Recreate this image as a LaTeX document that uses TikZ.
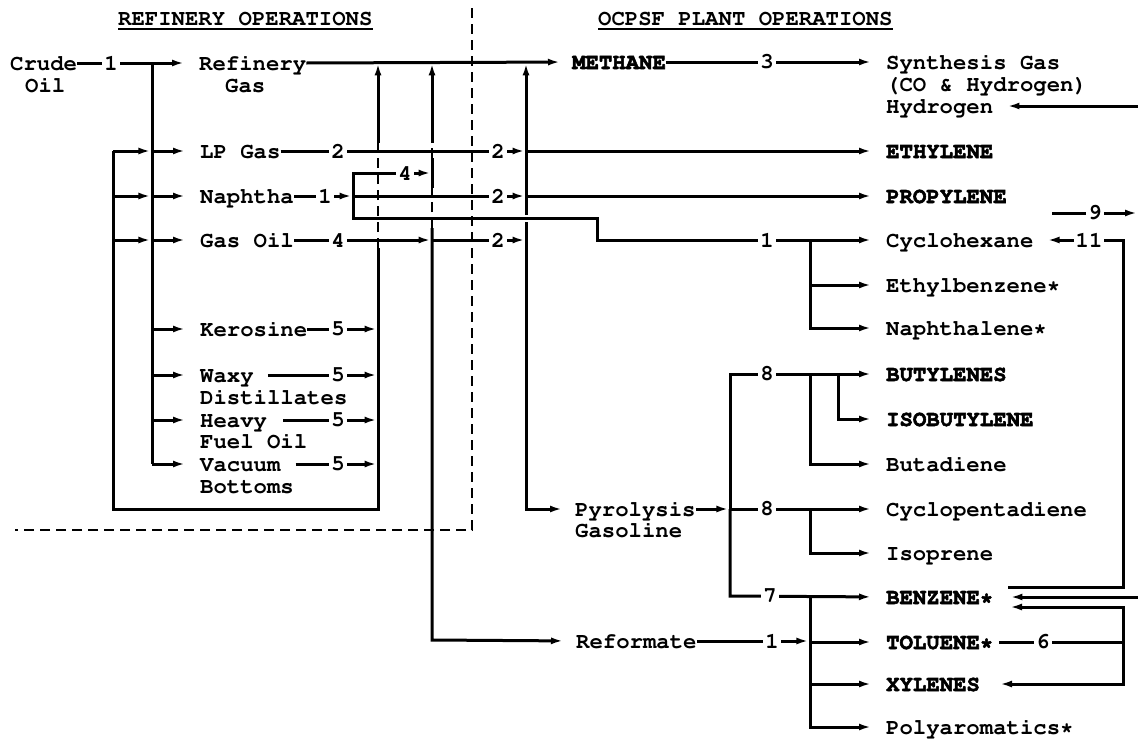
\documentclass[tikz,border=0pt]{standalone}
\usepackage[T1,TU]{fontenc}
\usetikzlibrary{arrows.meta,calc}
\newcommand\cour{\fontencoding{T1}\fontfamily{pcr}\fontseries{b}\fontshape{n}\fontsize{22.3}{26}\selectfont}
\newcommand\courb{\fontencoding{T1}\fontfamily{pcr}\fontseries{b}\fontshape{n}\fontsize{22.3}{26}\selectfont}
\newcommand\heavyon{\special{pdf:literal direct 2 Tr 0.55 w}}
\newcommand\heavyoff{\special{pdf:literal direct 0 Tr}}
\begin{document}
\begin{tikzpicture}[x=1pt,y=-1pt,
  ln/.style={line width=3pt, line join=miter},
  ar/.style={ln, -{Latex[length=12pt,width=7pt]}},
  arin/.style={ar, shorten >=1.4pt},
  to/.style={ar, shorten >=15pt},
  lab/.style={font=\cour, anchor=west, inner sep=0pt, text height=14pt, text depth=0pt},
  labb/.style={lab, font=\courb, execute at begin node=\heavyon, execute at end node=\heavyoff},
  num/.style={font=\cour, fill=white, inner xsep=2pt, inner ysep=1pt},
  dsh/.style={line width=2.2pt, dash pattern=on 10pt off 6pt},
  hdr/.style={font=\cour, anchor=base west, inner sep=0pt}
]
\useasboundingbox (0,0) rectangle (1138,742);

% headers
\node[hdr] (hdrR) at (118,25) {REFINERY OPERATIONS};
\node[hdr] (hdrP) at (598,25) {OCPSF PLANT OPERATIONS};
\draw[line width=1.8pt] ([yshift=-4pt]hdrR.base west) -- ([yshift=-4pt]hdrR.base east);
\draw[line width=1.8pt] ([yshift=-4pt]hdrP.base west) -- ([yshift=-4pt]hdrP.base east);

% boundary
\coordinate (bdTop) at (472,8);
\coordinate (bdCor) at (472,530);
\coordinate (bdEnd) at (15,530);
\draw[dsh] (bdTop) -- (bdCor) -- (bdEnd);

% left labels
\node[lab] (crude) at (10,63) {Crude};
\node[lab] (oil) at (25,85) {Oil};
\node[lab] (rgas) at (199,63) {Refinery};
\node[lab] (rgas2) at (225,85) {Gas};
\node[lab] (lpg) at (200,151) {LP Gas};
\node[lab] (nap) at (200,196) {Naphtha};
\node[lab] (goil) at (200,240) {Gas Oil};
\node[lab] (ker) at (200,329) {Kerosine};
\node[lab] (waxy) at (200,375) {Waxy};
\node[lab] (dist) at (200,397) {Distillates};
\node[lab] (heavy) at (200,420) {Heavy};
\node[lab] (fuel) at (200,441) {Fuel Oil};
\node[lab] (vac) at (200,464) {Vacuum};
\node[lab] (bot) at (200,486) {Bottoms};

% middle labels
\node[labb] (meth) at (572,62) {METHANE};
\node[lab] (pyro) at (575,509) {Pyrolysis};
\node[lab] (gasol) at (575,530) {Gasoline};
\node[lab] (ref) at (576,641) {Reformate};

% right labels
\node[lab] (syn) at (886,62) {Synthesis Gas};
\node[lab] (co) at (886,84) {(CO \& Hydrogen)};
\node[lab] (hyd) at (886,106) {Hydrogen};
\node[labb] (eth) at (886,151) {ETHYLENE};
\node[labb] (prop) at (886,196) {PROPYLENE};
\node[lab] (cyc) at (886,240) {Cyclohexane};
\node[lab] (ebz) at (886,285) {Ethylbenzene*};
\node[lab] (naph) at (886,328) {Naphthalene*};
\node[labb] (but) at (886,374) {BUTYLENES};
\node[labb] (ibut) at (886,419) {ISOBUTYLENE};
\node[lab] (buta) at (886,464) {Butadiene};
\node[lab] (cpd) at (886,509) {Cyclopentadiene};
\node[lab] (iso) at (886,553) {Isoprene};
\node[labb] (benz) at (886,597) {BENZENE*};
\node[labb] (tol) at (886,642) {TOLUENE*};
\node[labb] (xyl) at (886,684) {XYLENES};
\node[lab] (poly) at (886,727) {Polyaromatics*};

% junction coordinates
\coordinate (jc) at (152,63);
\coordinate (jcB) at (152,464);
\coordinate (lpC) at (113,151);
\coordinate (lpB) at (113,509);
\coordinate (lpA) at (378,509);
\coordinate (k5) at (378,248);
\coordinate (k5b) at (378,143);
\coordinate (k5t) at (378,62);
\coordinate (g4a) at (432,228);
\coordinate (g4b) at (432,188);
\coordinate (g4c) at (432,158);
\coordinate (g4d) at (432,143);
\coordinate (g4t) at (432,62);
\coordinate (g4r) at (432,640);
\coordinate (c2t) at (526,62);
\coordinate (c2b) at (526,509);
\coordinate (jn) at (353,196);
\coordinate (jnT) at (353,173);
\coordinate (jnB) at (353,218);
\coordinate (bpA) at (597,218);
\coordinate (bpB) at (597,240);
\coordinate (jcy) at (810,240);
\coordinate (jcyB) at (810,328);
\coordinate (jp) at (730,509);
\coordinate (jpT) at (730,374);
\coordinate (jpB) at (730,596);
\coordinate (jbu) at (810,374);
\coordinate (jbuB) at (810,464);
\coordinate (jib) at (838,374);
\coordinate (jibB) at (838,419);
\coordinate (jcp) at (810,509);
\coordinate (jcpB) at (810,553);
\coordinate (jar) at (810,596);
\coordinate (jarB) at (810,727);

% crude distribution
\draw[ln] (crude.east) -- (jc);
\draw[to] (jc) -- (rgas.west);
\draw[ln] (jc) -- (jcB);
\foreach \n in {lpg,nap,goil,ker,waxy,heavy,vac} {
  \draw[to] (jc |- \n.west) -- (\n.west);
}

% recycle loop
\draw[ln] (lpC) -- (lpB) -- (lpA) -- (k5);
\draw[dsh] (k5) -- (k5b);
\draw[arin] (k5b) -- (k5t);
\foreach \n in {lpg,nap,goil} {
  \draw[ar, shorten >=1.6pt] (lpC |- \n.west) -- (jc |- \n.west);
}

% "5" streams
\draw[arin] (ker.east) -- (k5 |- ker.west);
\draw[arin] ([xshift=14pt]waxy.east) -- (k5 |- waxy.west);
\draw[arin] ([xshift=16pt]heavy.east) -- (k5 |- heavy.west);
\draw[arin] ([xshift=15pt]vac.east) -- (k5 |- vac.west);

% refinery gas to methane
\draw[ar, shorten >=12pt] (rgas.east) -- (meth.west);

% x=432 collector
\draw[ar, shorten >=13pt] (g4a) -- (g4r) -- (ref.west);
\draw[dsh] (g4a) -- (g4b);
\draw[ln] (g4b) -- (g4c);
\draw[dsh] (g4c) -- (g4d);
\draw[arin] (g4d) -- (g4t);

% x=526 collector
\draw[ln, {Latex[length=12pt,width=7pt]}-{Latex[length=12pt,width=7pt]}, shorten <=1.4pt, shorten >=13pt] (c2t) -- (c2b) -- (pyro.west);

% LP gas
\draw[arin] (lpg.east) -- (c2t |- lpg.west);
% Naphtha
\draw[arin] (nap.east) -- (jn);
\draw[arin] (jn) -- (jnT) -- (g4t |- jnT);
\draw[arin] (jn) -- (c2t |- jn);
\draw[white, line width=7pt] (519,218) -- (533,218);
\draw[to] (jn) -- (jnB) -- (bpA) -- (bpB) -- (cyc.west);
% Gas oil
\draw[arin] (goil.east) -- (g4t |- goil.west);
\draw[arin] (g4t |- goil.west) -- (c2t |- goil.west);

% ethylene / propylene
\draw[to] (c2t |- eth.west) -- (eth.west);
\draw[to] (c2t |- prop.west) -- (prop.west);

% methane to synthesis gas
\draw[to] (meth.east) -- (syn.west);

% cyclohexane group
\draw[to] (jcy) -- (jcyB) -- (naph.west);
\draw[to] (jcy |- ebz.west) -- (ebz.west);

% pyrolysis gasoline
\draw[ar, shorten >=1.6pt] (pyro.east) -- (jp);
\draw[to] (jp) -- (cpd.west);
\draw[to] (jcp) -- (jcpB) -- (iso.west);
\draw[to] (jp) -- (jpT) -- (but.west);
\draw[to] (jp) -- (jpB) -- (benz.west);
\draw[to] (jbu) -- (jbuB) -- (buta.west);
\draw[to] (jib) -- (jibB) -- (ibut.west);
\draw[to] (jar) -- (jarB) -- (poly.west);
\draw[to] (jar |- xyl.west) -- (xyl.west);
\draw[to] (jar |- tol.west) -- (tol.west);
% reformate
\draw[ar, shorten >=1.6pt] (ref.east) -- (jar |- ref.west);

% right-hand loops
\coordinate (c11s) at (1008,587);
\coordinate (c11a) at (1123,587);
\coordinate (c11b) at (1123,240);
\draw[ar, shorten >=14pt] (c11s) -- (c11a) -- (c11b) -- (cyc.east);
\coordinate (c9a) at (1052,213);
\coordinate (c9b) at (1137,213);
\draw[ar] (c9a) -- (c9b);
\coordinate (hR) at (1138,106);
\draw[ar, shorten >=14pt] (hR) -- (hyd.east);
\coordinate (bR) at (1138,597);
\draw[ar, shorten >=17pt] (bR) -- (benz.east);
\coordinate (t6s) at (999,642);
\coordinate (t6j) at (1123,642);
\coordinate (t6a) at (1123,607);
\coordinate (t6b) at (1123,684);
\coordinate (b6) at (1010,607);
\coordinate (x6) at (1000,684);
\draw[ln] (t6s) -- (t6j);
\draw[ar] (t6j) -- (t6a) -- (b6);
\draw[ar] (t6j) -- (t6b) -- (x6);

% process numbers
\node[num] (n01) at (111,63) {1};
\node[num] (n02) at (338,151) {2};
\node[num] (n03) at (498,151) {2};
\node[num] (n04) at (325,196) {1};
\node[num] (n05) at (405,173) {4};
\node[num] (n06) at (498,196) {2};
\node[num] (n07) at (338,240) {4};
\node[num] (n08) at (498,240) {2};
\node[num] (n09) at (338,329) {5};
\node[num] (n10) at (338,375) {5};
\node[num] (n11) at (338,420) {5};
\node[num] (n12) at (338,464) {5};
\node[num] (n13) at (767,62) {3};
\node[num] (n14) at (767,240) {1};
\node[num] (n15) at (767,374) {8};
\node[num] (n16) at (767,509) {8};
\node[num] (n17) at (770,596) {7};
\node[num] (n18) at (772,641) {1};
\node[num] (n19) at (1089,240) {11};
\node[num] (n20) at (1095,213) {9};
\node[num] (n21) at (1043,642) {6};
\end{tikzpicture}
\end{document}
